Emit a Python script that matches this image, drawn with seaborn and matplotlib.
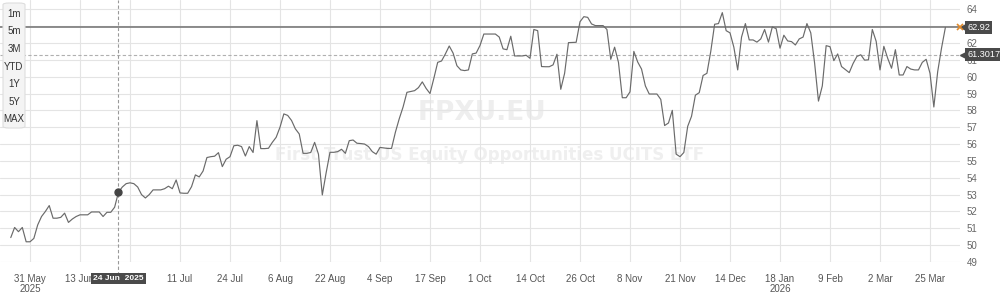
import numpy as np
import pandas as pd
import matplotlib
matplotlib.use("Agg")
import matplotlib.pyplot as plt
from matplotlib.patches import FancyBboxPatch
import seaborn as sns

# ---- data (one value per trading point) ----
prices = [
    50.45, 51.05, 50.8, 51.05, 50.2, 50.2, 50.4, 51.2, 51.7, 52.0,
    52.35, 51.6, 51.6, 51.65, 51.9, 51.35, 51.55, 51.7, 51.8, 51.8,
    51.8, 51.97, 51.97, 51.97, 51.7, 51.95, 51.95, 52.25, 53.14, 53.45,
    53.65, 53.7, 53.65, 53.45, 53.0, 52.8, 53.0, 53.28, 53.28, 53.28,
    53.35, 53.5, 53.35, 53.87, 53.1, 53.08, 53.08, 53.47, 54.17, 54.05,
    54.4, 55.2, 55.25, 55.28, 55.49, 54.66, 55.1, 55.25, 55.9, 55.93,
    55.85, 55.29, 55.85, 55.5, 57.39, 55.73, 55.73, 55.75, 56.1, 56.4,
    57.0, 57.79, 57.7, 57.4, 56.9, 56.6, 55.45, 55.45, 55.5, 56.1,
    55.4, 52.98, 54.3, 55.51, 55.51, 55.55, 55.69, 55.45, 56.2, 56.24,
    56.05, 56.03, 56.0, 55.85, 55.55, 55.4, 55.8, 55.77, 55.74, 55.74,
    56.7, 57.5, 58.2, 59.07, 59.12, 59.17, 59.35, 59.69, 59.3, 59.0,
    59.9, 60.85, 60.93, 61.35, 61.82, 61.4, 60.65, 60.4, 60.36, 60.4,
    61.35, 61.4, 61.85, 62.53, 62.53, 62.53, 62.53, 62.35, 61.65, 61.6,
    62.4, 61.23, 61.23, 61.23, 61.27, 61.09, 62.8, 62.73, 60.6, 60.59,
    60.59, 60.7, 61.33, 59.25, 60.2, 62.02, 62.03, 62.04, 63.26, 63.56,
    63.52, 63.13, 63.03, 63.03, 63.03, 62.8, 61.03, 61.75, 60.85, 58.75,
    58.75, 59.1, 61.5, 60.87, 60.45, 59.45, 58.97, 58.97, 58.97, 58.65,
    57.1, 57.25, 58.0, 55.4, 55.25, 55.5, 57.05, 57.65, 58.9, 59.05,
    60.07, 60.2, 61.5, 63.11, 63.15, 63.8, 62.73, 62.6, 61.75, 60.4,
    62.35, 63.15, 62.18, 62.18, 62.05, 62.24, 62.8, 62.05, 62.95, 62.85,
    61.69, 62.46, 62.12, 62.08, 61.88, 62.24, 62.35, 63.15, 62.6, 60.8,
    58.55, 59.45, 61.84, 61.78, 60.95, 61.35, 60.6, 60.42, 60.24, 60.78,
    61.2, 61.3, 60.98, 61.0, 62.8, 62.1, 60.4, 61.8, 61.09, 60.5,
    61.6, 60.1, 60.1, 60.6, 60.45, 60.4, 60.4, 60.85, 61.03, 60.2,
    58.2, 60.3, 61.7, 62.92,
]
x_tick_labels = ["31 May\n2025", "13 Jun", "", "11 Jul", "24 Jul", "6 Aug",
                 "22 Aug", "4 Sep", "17 Sep", "1 Oct", "14 Oct", "26 Oct",
                 "8 Nov", "21 Nov", "14 Dec", "18 Jan\n2026", "9 Feb",
                 "2 Mar", "25 Mar"]
y_ticks = list(range(49, 65))
last_price = 62.92
avg_price = 61.3017
hover_index = 28
hover_label = "24 Jun  2025"
range_buttons = ["1m", "5m", "3M", "YTD", "1Y", "5Y", "MAX"]
ticker = "FPXU.EU"
fund_name = "First Trust US Equity Opportunities UCITS ETF"

df = pd.DataFrame({"idx": np.arange(len(prices)), "price": prices})

sns.set_style("white")
plt.rcParams["font.family"] = ["Liberation Sans", "DejaVu Sans"]

fig = plt.figure(figsize=(10, 2.96), dpi=100)
ax = fig.add_axes([0.0, 34 / 296, 0.96, 262 / 296])

# watermark
ax.text(0.502, 0.568, ticker, transform=ax.transAxes, ha="center", va="center",
        fontsize=19, fontweight="bold", color="#eeeeee", family="DejaVu Sans", zorder=0)
ax.text(0.51, 0.408, fund_name, transform=ax.transAxes, ha="center", va="center",
        fontsize=12, fontweight="bold", color="#efefef", family="DejaVu Sans", zorder=0)

sns.lineplot(data=df, x="idx", y="price", ax=ax, color="#6a6a6a", linewidth=0.85, zorder=3)

ax.axhline(last_price, color="#7a7a7a", linewidth=1.2, zorder=2)
ax.axhline(avg_price, color="#b0b0b0", linewidth=0.8, linestyle=(0, (3, 2)), zorder=2)

# crosshair
ax.axvline(hover_index, ymin=-0.05, ymax=1, color="#999999", linewidth=0.8,
           linestyle=(0, (3, 2)), clip_on=False, zorder=2)
ax.plot([hover_index], [prices[hover_index]], marker="o", markersize=5,
        color="#444444", zorder=5)

ax.set_xlim(-2.8, 246.8)
ax.set_ylim(49, 64.55)
ax.set_xticks(np.arange(5, 5 + 13 * len(x_tick_labels), 13))
ax.set_xticklabels(x_tick_labels, linespacing=1.0)
ax.set_yticks(y_ticks)
ax.yaxis.tick_right()
ax.tick_params(axis="x", length=0, pad=9, labelsize=7, labelcolor="#555555")
ax.tick_params(axis="y", length=0, pad=5, labelsize=7, labelcolor="#666666")
ax.grid(True, color="#e4e4e4", linewidth=0.8)
for s in ax.spines.values():
    s.set_visible(False)
ax.set_xlabel("")
ax.set_ylabel("")

# hover date label
ax.text(hover_index, -0.062, hover_label, transform=ax.get_xaxis_transform(),
        ha="center", va="center", fontsize=6, fontweight="bold", color="white",
        bbox=dict(boxstyle="square,pad=0.25", fc="#4a4a4a", ec="none"),
        clip_on=False, zorder=10)

# right value labels
ytr = ax.get_yaxis_transform()
for val, txt in [(last_price, f"{last_price:.2f}"), (avg_price, f"{avg_price:.4f}")]:
    ax.text(1.0075, val, txt, transform=ytr, ha="left", va="center", fontsize=6.6,
            color="white", bbox=dict(boxstyle="square,pad=0.2", fc="#4a4a4a", ec="none"),
            clip_on=False, zorder=10)
    ax.plot([1.0035], [val], marker="<", markersize=5, color="#4a4a4a",
            transform=ytr, clip_on=False, zorder=10)
ax.plot([0.9995], [last_price], marker="x", markersize=4, color="#e08a2c",
        markeredgewidth=1.2, transform=ytr, clip_on=False, zorder=11)

# range buttons panel
panel = FancyBboxPatch((3 / 1000, 1 - 128 / 296), 22 / 1000, 125 / 296,
                       boxstyle="round,pad=0,rounding_size=0.006",
                       transform=fig.transFigure, fc="#f4f4f4", ec="#dddddd",
                       linewidth=0.8, zorder=20)
fig.patches.append(panel)
for k, lab in enumerate(range_buttons):
    fig.text(14 / 1000, 1 - (14 + 17.5 * k) / 296, lab, ha="center", va="center",
             fontsize=7, color="#333333", zorder=21)

fig.savefig("out.png", dpi=100)
